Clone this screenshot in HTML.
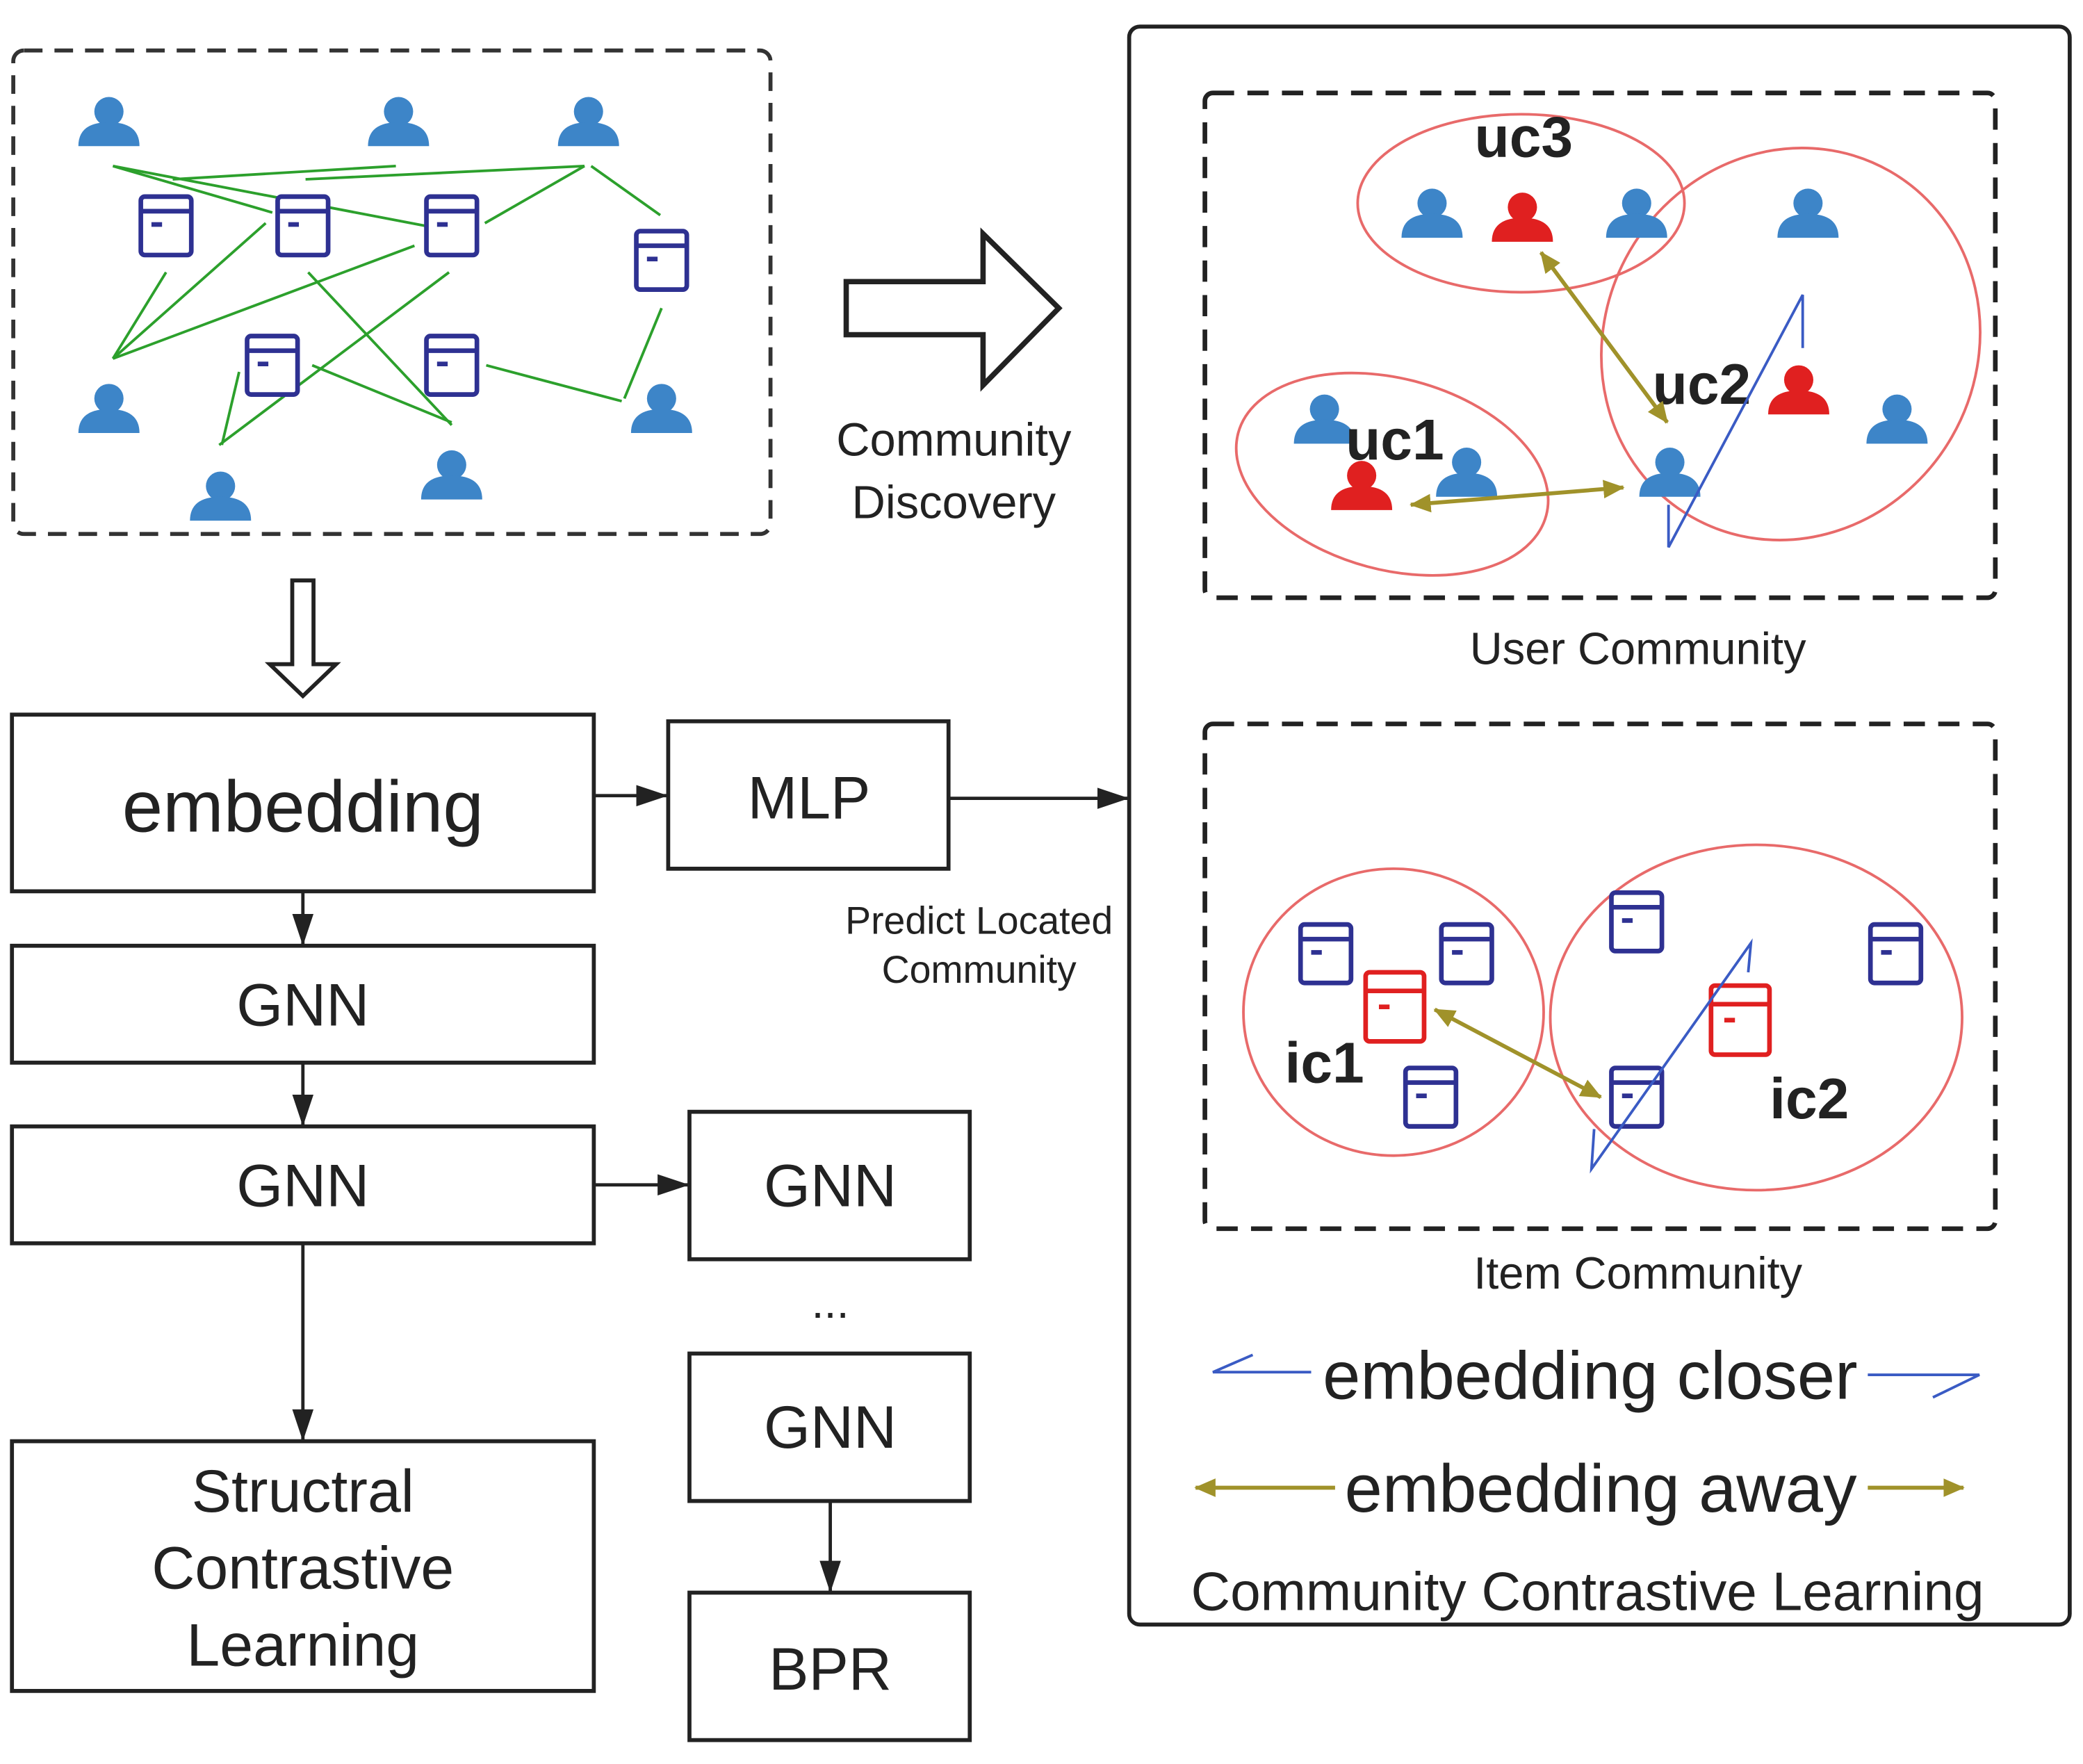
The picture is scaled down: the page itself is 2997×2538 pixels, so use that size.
<!DOCTYPE html>
<html><head><meta charset="utf-8"><style>
html,body{margin:0;padding:0;background:#fff;}
svg{display:block;}
text{font-family:"Liberation Sans",sans-serif;fill:#222;}
</style></head><body>
<svg width="2997" height="2538" viewBox="0 0 1568 1328" preserveAspectRatio="none" xmlns="http://www.w3.org/2000/svg">
<defs>
<g id="u"><circle cx="0" cy="-12" r="11"/><path d="M-23,14 Q-23,-4 0,-4 Q23,-4 23,14 Z"/></g>
<g id="it" fill="#fff" stroke="#2e3192" stroke-width="3.5"><rect x="-19" y="-22" width="38" height="44" rx="3"/><line x1="-19" y1="-11" x2="19" y2="-11"/><line x1="-11" y1="-1" x2="-3" y2="-1"/></g>
<g id="itr" fill="#fff" stroke="#e02020" stroke-width="3.5"><rect x="-22" y="-26" width="44" height="52" rx="3"/><line x1="-22" y1="-12" x2="22" y2="-12"/><line x1="-12" y1="0" x2="-4" y2="0"/></g>
<marker id="ah" markerWidth="24" markerHeight="20" refX="23" refY="10" orient="auto" markerUnits="userSpaceOnUse"><path d="M0,2 L24,10 L0,18 Z" fill="#222"/></marker>
<marker id="ya" markerWidth="16" markerHeight="14" refX="15" refY="7" orient="auto-start-reverse" markerUnits="userSpaceOnUse"><path d="M0,0 L16,7 L0,14 Z" fill="#a0922a"/></marker>
</defs>

<rect x="10" y="38" width="570" height="364" rx="8" fill="none" stroke="#333" stroke-width="3" stroke-dasharray="14,9"/>
<g stroke="#2ca02c" stroke-width="2" fill="none">
<line x1="85" y1="125" x2="205" y2="160"/><line x1="85" y1="125" x2="320" y2="170"/>
<line x1="130" y1="135" x2="298" y2="125"/><line x1="230" y1="135" x2="440" y2="125"/>
<line x1="440" y1="125" x2="365" y2="168"/><line x1="445" y1="125" x2="497" y2="162"/>
<line x1="85" y1="270" x2="200" y2="168"/><line x1="85" y1="270" x2="312" y2="185"/>
<line x1="125" y1="205" x2="85" y2="270"/><line x1="232" y1="205" x2="340" y2="320"/>
<line x1="338" y1="205" x2="165" y2="335"/><line x1="180" y1="280" x2="167" y2="335"/>
<line x1="235" y1="275" x2="340" y2="318"/><line x1="366" y1="275" x2="468" y2="302"/>
<line x1="498" y1="232" x2="470" y2="300"/>
</g>
<g fill="#3d85c8">
<use href="#u" x="82" y="96"/><use href="#u" x="300" y="96"/><use href="#u" x="443" y="96"/>
<use href="#u" x="82" y="312"/><use href="#u" x="498" y="312"/><use href="#u" x="166" y="378"/><use href="#u" x="340" y="362"/>
</g>
<use href="#it" x="125" y="170"/><use href="#it" x="228" y="170"/><use href="#it" x="340" y="170"/>
<use href="#it" x="498" y="196"/><use href="#it" x="205" y="275"/><use href="#it" x="340" y="275"/>

<path d="M637,212 L740,212 L740,176 L797,232 L740,290 L740,252 L637,252 Z" fill="#fff" stroke="#222" stroke-width="4"/>
<text x="718" y="343" font-size="35" text-anchor="middle">Community</text>
<text x="718" y="390" font-size="35" text-anchor="middle">Discovery</text>

<path d="M220,437 L236,437 L236,500 L253,500 L228,524 L203,500 L220,500 Z" fill="#fff" stroke="#222" stroke-width="3"/>

<g fill="#fff" stroke="#222" stroke-width="3">
<rect x="9" y="538" width="438" height="133"/>
<rect x="9" y="712" width="438" height="88"/>
<rect x="9" y="848" width="438" height="88"/>
<rect x="9" y="1085" width="438" height="188"/>
<rect x="503" y="543" width="211" height="111"/>
<rect x="519" y="837" width="211" height="111"/>
<rect x="519" y="1019" width="211" height="111"/>
<rect x="519" y="1199" width="211" height="111"/>
</g>
<text x="228" y="626" font-size="55" text-anchor="middle">embedding</text>
<text x="228" y="772" font-size="45" text-anchor="middle">GNN</text>
<text x="228" y="908" font-size="45" text-anchor="middle">GNN</text>
<text x="228" y="1138" font-size="45" text-anchor="middle">Structral</text>
<text x="228" y="1196" font-size="45" text-anchor="middle">Contrastive</text>
<text x="228" y="1254" font-size="45" text-anchor="middle">Learning</text>
<text x="609" y="616" font-size="45" text-anchor="middle">MLP</text>
<text x="625" y="908" font-size="45" text-anchor="middle">GNN</text>
<text x="625" y="1090" font-size="45" text-anchor="middle">GNN</text>
<text x="625" y="1272" font-size="45" text-anchor="middle">BPR</text>
<text x="625" y="992" font-size="34" text-anchor="middle">...</text>
<text x="737" y="703" font-size="29" text-anchor="middle">Predict Located</text>
<text x="737" y="740" font-size="29" text-anchor="middle">Community</text>

<g stroke="#222" stroke-width="2.5" fill="none" marker-end="url(#ah)">
<line x1="228" y1="671" x2="228" y2="711"/>
<line x1="228" y1="800" x2="228" y2="847"/>
<line x1="228" y1="936" x2="228" y2="1084"/>
<line x1="447" y1="599" x2="502" y2="599"/>
<line x1="714" y1="601" x2="849" y2="601"/>
<line x1="447" y1="892" x2="518" y2="892"/>
<line x1="625" y1="1130" x2="625" y2="1198"/>
</g>

<rect x="850" y="20" width="708" height="1203" rx="8" fill="none" stroke="#222" stroke-width="3"/>
<rect x="907" y="70" width="595" height="380" rx="6" fill="none" stroke="#222" stroke-width="3.5" stroke-dasharray="16,10"/>
<rect x="907" y="545" width="595" height="380" rx="6" fill="none" stroke="#222" stroke-width="3.5" stroke-dasharray="16,10"/>

<g fill="none" stroke="#e86a6a" stroke-width="2">
<ellipse cx="1145" cy="153" rx="123" ry="67"/>
<ellipse cx="1348" cy="259" rx="140" ry="150" transform="rotate(30 1348 259)"/>
<ellipse cx="1048" cy="357" rx="120" ry="72" transform="rotate(15 1048 357)"/>
</g>
<g fill="#3d85c8">
<use href="#u" x="1078" y="165"/><use href="#u" x="1232" y="165"/><use href="#u" x="1361" y="165"/>
<use href="#u" x="997" y="320"/><use href="#u" x="1104" y="360"/><use href="#u" x="1257" y="360"/><use href="#u" x="1428" y="320"/>
</g>
<g fill="#e02020">
<use href="#u" x="1146" y="168"/><use href="#u" x="1354" y="298"/><use href="#u" x="1025" y="370"/>
</g>
<text x="1147" y="118" font-size="43" font-weight="bold" text-anchor="middle">uc3</text>
<text x="1281" y="304" font-size="43" font-weight="bold" text-anchor="middle">uc2</text>
<text x="1050" y="346" font-size="43" font-weight="bold" text-anchor="middle">uc1</text>
<g stroke="#a0922a" stroke-width="3" marker-start="url(#ya)" marker-end="url(#ya)">
<line x1="1160" y1="190" x2="1255" y2="318"/>
<line x1="1062" y1="380" x2="1222" y2="367"/>
</g>
<polyline points="1357,262 1357,222 1256,412 1256,380" fill="none" stroke="#3a5bc4" stroke-width="2"/>
<text x="1233" y="500" font-size="34" text-anchor="middle">User Community</text>

<g fill="none" stroke="#e86a6a" stroke-width="2">
<ellipse cx="1049" cy="762" rx="113" ry="108"/>
<ellipse cx="1322" cy="766" rx="155" ry="130"/>
</g>
<use href="#it" x="998" y="718"/><use href="#it" x="1104" y="718"/><use href="#it" x="1077" y="826"/>
<use href="#it" x="1232" y="694"/><use href="#it" x="1427" y="718"/><use href="#it" x="1232" y="826"/>
<use href="#itr" x="1050" y="758"/><use href="#itr" x="1310" y="768"/>
<text x="997" y="815" font-size="43" font-weight="bold" text-anchor="middle">ic1</text>
<text x="1362" y="842" font-size="43" font-weight="bold" text-anchor="middle">ic2</text>
<line x1="1080" y1="760" x2="1205" y2="826" stroke="#a0922a" stroke-width="3" marker-start="url(#ya)" marker-end="url(#ya)"/>
<polyline points="1316,732 1318,710 1198,880 1200,850" fill="none" stroke="#3a5bc4" stroke-width="2"/>
<text x="1233" y="970" font-size="34" text-anchor="middle">Item Community</text>

<polyline points="943,1020 913,1033 987,1033" fill="none" stroke="#3a5bc4" stroke-width="2"/>
<polyline points="1406,1035 1490,1035 1455,1052" fill="none" stroke="#3a5bc4" stroke-width="2"/>
<text x="1197" y="1053" font-size="51" text-anchor="middle">embedding closer</text>
<line x1="1005" y1="1120" x2="900" y2="1120" stroke="#a0922a" stroke-width="3" marker-end="url(#ya)"/>
<line x1="1406" y1="1120" x2="1478" y2="1120" stroke="#a0922a" stroke-width="3" marker-end="url(#ya)"/>
<text x="1205" y="1138" font-size="51" text-anchor="middle">embedding away</text>
<text x="1195" y="1212" font-size="41" text-anchor="middle">Community Contrastive Learning</text>
</svg>
</body></html>
